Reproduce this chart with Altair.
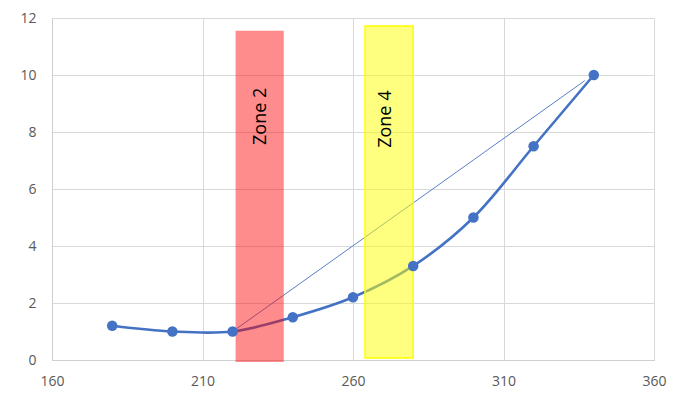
import altair as alt
import pandas as pd

# Main series
xs = [180, 200, 220, 240, 260, 280, 300, 320, 340]
ys = [1.2, 1.0, 1.0, 1.5, 2.2, 3.3, 5.0, 7.5, 10.0]

# Thin straight line
trend_x = [220, 337]
trend_y = [1.0, 9.8]

# Zones
zone_names = ["Zone 2", "Zone 4"]
zone_x1 = [221, 264]
zone_x2 = [237, 280]
zone_y1 = [-0.07, 0.07]
zone_y2 = [11.55, 11.72]
zone_fill = ["#ff0000", "#ffff00"]
zone_opacity = [0.45, 0.5]
zone_label_x = [229.5, 271]
zone_label_y = [8.55, 8.45]

x_ticks = [160, 210, 260, 310, 360]
y_ticks = [0, 2, 4, 6, 8, 10, 12]

series = pd.DataFrame({"x": xs, "y": ys})
trend = pd.DataFrame({"x": trend_x, "y": trend_y})
zones = pd.DataFrame({
    "name": zone_names, "x1": zone_x1, "x2": zone_x2,
    "y1": zone_y1, "y2": zone_y2, "fill": zone_fill, "op": zone_opacity,
    "lx": zone_label_x, "ly": zone_label_y,
})

FONT = "Open Sans"

xscale = alt.Scale(domain=[160, 360], nice=False, zero=False)
yscale = alt.Scale(domain=[0, 12], nice=False)

xaxis = alt.Axis(values=x_ticks, title=None, grid=True, ticks=False,
                 labelPadding=14, labelFontSize=14, labelColor="#595959",
                 labelFont=FONT, domainColor="#cfcfcf",
                 gridColor="#d9d9d9", labelFlush=False)
yaxis = alt.Axis(values=y_ticks, title=None, grid=True, ticks=False,
                 labelPadding=16, labelFontSize=14, labelColor="#595959",
                 labelFont=FONT, domainColor="#cfcfcf",
                 gridColor="#d9d9d9")

base_x = alt.X("x:Q", scale=xscale, axis=xaxis)
base_y = alt.Y("y:Q", scale=yscale, axis=yaxis)

line = alt.Chart(series).mark_line(
    color="#4472C4", strokeWidth=2.6, interpolate="catmull-rom"
).encode(x=base_x, y=base_y)

trend_line = alt.Chart(trend).mark_line(
    color="#4472C4", strokeWidth=0.9
).encode(x=alt.X("x:Q", scale=xscale), y=alt.Y("y:Q", scale=yscale))

rects = alt.Chart(zones).mark_rect(stroke=None).encode(
    x=alt.X("x1:Q", scale=xscale), x2="x2:Q",
    y=alt.Y("y1:Q", scale=yscale), y2="y2:Q",
    fill=alt.Fill("fill:N", scale=None),
    opacity=alt.Opacity("op:Q", scale=None),
)

yellow_border = alt.Chart(zones[zones["name"] == "Zone 4"]).mark_rect(
    fill=None, stroke="#ffff00", strokeWidth=1.5
).encode(
    x=alt.X("x1:Q", scale=xscale), x2="x2:Q",
    y=alt.Y("y1:Q", scale=yscale), y2="y2:Q",
)

points = alt.Chart(series).mark_circle(
    color="#4472C4", size=110, opacity=1
).encode(x=alt.X("x:Q", scale=xscale), y=alt.Y("y:Q", scale=yscale))

labels = alt.Chart(zones).mark_text(
    angle=270, fontSize=18, font=FONT, color="#000000",
    align="center", baseline="middle"
).encode(x=alt.X("lx:Q", scale=xscale), y=alt.Y("ly:Q", scale=yscale),
         text="name:N")

chart = alt.layer(line, trend_line, rects, yellow_border, points, labels).properties(
    width=602, height=342,
    autosize=alt.AutoSizeParams(type="none"),
    padding={"left": 44, "top": 10, "right": 18, "bottom": 40},
    background="white",
).configure_view(stroke=None)

chart.save("out.html", embed_options={"renderer": "svg", "actions": False})
